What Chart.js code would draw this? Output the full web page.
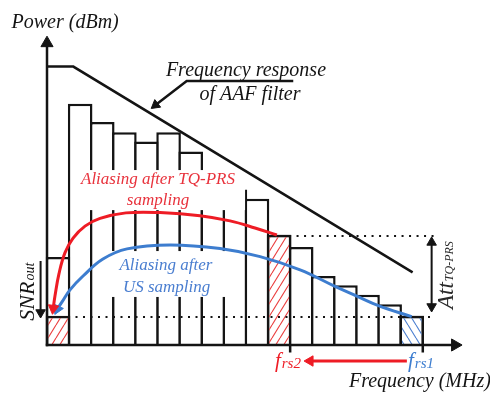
<!DOCTYPE html>
<html>
<head>
<meta charset="utf-8">
<script src="https://cdn.jsdelivr.net/npm/chart.js@4.4.1/dist/chart.umd.min.js"></script>
<style>
  html, body { margin: 0; padding: 0; background: #fff; }
  #wrap { width: 490px; height: 396px; }
</style>
</head>
<body>
<div id="wrap"><canvas id="spectrumChart" width="490" height="396"></canvas></div>
<script>
// frequency bins (bar centres) and power per bin, arbitrary dB units
const binCentres = [0.5, 1.5, 2.5, 3.5, 4.5, 5.5, 6.5, 7.5, 8.5, 9.5, 10.5, 11.5, 12.5, 13.5, 14.5, 15.5, 16.5];
const binPower   = [28.6, 78.3, 72.4, 69.1, 66.1, 69.1, 62.8, 55.0, 50.5, 47.5, 35.8, 31.8, 22.4, 19.4, 16.3, 13.2, 9.5];

// bins that get hatched (aliased power)
const aliasBins  = [0.5, 10.5, 16.5];
const aliasPower = [9.5, 35.8, 9.5];

// AAF filter response
const aafX = [0, 1.19, 16.54];
const aafY = [90.4, 90.4, 23.6];

// aliasing paths
const tqprsX = [10.40, 9.41, 8.28, 6.92, 5.11, 3.57, 2.40, 1.72, 1.18, 0.81, 0.54, 0.36, 0.28];
const tqprsY = [35.7, 38.0, 40.3, 42.0, 43.0, 42.9, 41.1, 38.6, 34.7, 29.9, 23.1, 15.9, 11.9];
const usX = [16.50, 14.99, 14.01, 12.98, 11.45, 9.64, 7.83, 5.56, 3.62, 2.53, 1.63, 1.04, 0.68, 0.47];
const usY = [9.2, 12.8, 15.9, 19.2, 24.4, 28.7, 31.3, 32.5, 31.2, 27.9, 22.4, 17.9, 14.0, 11.7];

// reference levels (dotted)
const floorLevel = 9.1;
const tqLevel = 35.4;

// sampling rate markers on the frequency axis
const fsTicks = [11, 17];

const black = '#141414';
const red = '#ee1c25';
const blue = '#3d7dcf';

function pts(xs, ys) {
    return xs.map((x, i) => ({ x: x, y: ys[i] }));
}

function hatch(color, back) {
    const c = document.createElement('canvas');
    c.width = 8; c.height = 13;
    const g = c.getContext('2d');
    g.strokeStyle = color;
    g.lineWidth = 1.1;
    for (let k = -1; k <= 1; k++) {
        g.beginPath();
        if (back) { g.moveTo(k * 8, 0); g.lineTo(k * 8 + 8, 13); }
        else { g.moveTo(k * 8, 13); g.lineTo(k * 8 + 8, 0); }
        g.stroke();
    }
    return g.createPattern(c, 'repeat');
}

// line with optional triangle heads: heads = [[pointIndex, rotation], ...]
function arrowSet(xs, ys, color, width, heads, radius) {
    const rad = xs.map(() => 0);
    const rot = xs.map(() => 0);
    heads.forEach(h => { rad[h[0]] = radius; rot[h[0]] = h[1]; });
    return {
        type: 'line',
        data: pts(xs, ys),
        borderColor: color,
        borderWidth: width,
        backgroundColor: color,
        pointStyle: 'triangle',
        pointRadius: rad,
        pointRotation: rot,
        pointBackgroundColor: color,
        pointBorderColor: color,
        pointBorderWidth: 1,
        tension: 0,
        clip: false,
        order: 1
    };
}

function dotted(xs, level) {
    return {
        type: 'line',
        data: pts(xs, [level, level]),
        borderColor: black,
        borderWidth: 2,
        borderDash: [2, 5.5],
        pointRadius: 0,
        clip: false,
        order: 2
    };
}

const barStyle = {
    borderColor: black,
    borderWidth: 2.5,
    barPercentage: 1.113,
    categoryPercentage: 1,
    grouped: false
};

const textFont = '"Liberation Serif", "DejaVu Serif", serif';

const annotate = {
    id: 'annotate',
    afterDatasetDraw(chart, args) {
        if (args.index !== 1) return;
        const ctx = chart.ctx;
        const sx = chart.scales.x, sy = chart.scales.y;
        const px = v => sx.getPixelForValue(v);
        const py = v => sy.getPixelForValue(v);
        ctx.save();

        // white backing under the alias labels
        ctx.fillStyle = '#fff';
        ctx.fillRect(px(1.40), py(56.8), px(8.96) - px(1.40), py(43.8) - py(56.8));
        ctx.fillRect(px(2.53), py(30.5), px(8.37) - px(2.53), py(15.6) - py(30.5));

        ctx.textAlign = 'center';
        ctx.textBaseline = 'alphabetic';
        const put = (t, x, y, size, color) => {
            ctx.font = 'italic ' + size + 'px ' + textFont;
            ctx.fillStyle = color;
            ctx.fillText(t, px(x), py(y));
        };
        put('Power (dBm)', 0.82, 102.9, 20, black);
        put('Frequency response', 9.0, 87.3, 20, black);
        put('of AAF filter', 9.18, 79.5, 20, black);
        put('Aliasing after TQ-PRS', 5.02, 52.3, 17, '#e8323c');
        put('sampling', 5.02, 45.5, 17, '#e8323c');
        put('Aliasing after', 5.38, 24.35, 17, '#4a7ed0');
        put('US sampling', 5.41, 17.3, 17, '#4a7ed0');
        put('Frequency (MHz)', 16.87, -13.5, 20, black);

        // f_rs labels
        ctx.textAlign = 'left';
        const sub = (main, low, x, y, color, big, small) => {
            ctx.fillStyle = color;
            ctx.font = 'italic ' + big + 'px ' + textFont;
            const w = ctx.measureText(main).width;
            ctx.fillText(main, px(x), py(y));
            ctx.font = 'italic ' + small + 'px ' + textFont;
            ctx.fillText(low, px(x) + w + 1, py(y) + 1);
        };
        sub('f', 'rs2', 10.31, -7.05, red, 21, 15);
        sub('f', 'rs1', 16.33, -7.05, blue, 21, 15);

        // rotated labels
        const rotated = (main, low, x, y, color, big, small) => {
            ctx.save();
            ctx.translate(px(x), py(y));
            ctx.rotate(-Math.PI / 2);
            ctx.fillStyle = color;
            ctx.font = 'italic ' + big + 'px ' + textFont;
            const w = ctx.measureText(main).width;
            ctx.fillText(main, 0, 0);
            ctx.font = 'italic ' + small + 'px ' + textFont;
            ctx.fillText(low, w + 1, 0);
            ctx.restore();
        };
        rotated('Att', 'TQ-PRS', 18.36, 11.7, '#2a2a2a', 23, 12);
        rotated('SNR', 'out', -0.6, 7.9, black, 22, 14);

        ctx.restore();
    }
};

new Chart(document.getElementById('spectrumChart'), {
    type: 'bar',
    data: {
        datasets: [
            Object.assign({
                data: pts(binCentres, binPower),
                backgroundColor: '#fff',
                order: 5
            }, barStyle),
            Object.assign({
                data: pts(aliasBins, aliasPower),
                backgroundColor: [hatch('#ea3b3b', false), hatch('#ea3b3b', false), hatch('#4a7ed0', true)],
                order: 4
            }, barStyle),
            // AAF response
            arrowSet(aafX, aafY, black, 2.5, [], 0),
            // leader from the AAF label
            arrowSet([11.14, 6.32, 4.91], [85.7, 85.7, 77.9], black, 2.5, [[2, 232]], 5.5),
            // aliasing curves
            Object.assign(arrowSet(tqprsX, tqprsY, red, 3, [[tqprsX.length - 1, 187]], 6), { tension: 0.4 }),
            Object.assign(arrowSet(usX, usY, blue, 3, [[usX.length - 1, 205]], 6), { tension: 0.4 }),
            dotted([0.95, 17.5], floorLevel),
            dotted([10.95, 17.6], tqLevel),
            // Att double arrow
            arrowSet([17.4, 17.4], [33.3, 12.5], black, 2, [[0, 0], [1, 180]], 5.5),
            // SNR arrow
            arrowSet([-0.29, -0.29], [27.3, 10.55], black, 2, [[1, 180]], 5.5),
            // frs1 -> frs2 arrow
            arrowSet([16.28, 11.9], [-5.2, -5.2], red, 3, [[1, 270]], 6),
            // axes
            Object.assign(arrowSet([0, 0], [0, 98], black, 2.5, [[1, 0]], 7), { borderCapStyle: 'square' }),
            Object.assign(arrowSet([0, 18.46], [0, 0], black, 2.5, [[1, 90]], 7), { borderCapStyle: 'square' }),
            arrowSet([fsTicks[0], fsTicks[0]], [0, -2.4], black, 2.5, [], 0),
            arrowSet([fsTicks[1], fsTicks[1]], [0, -2.4], black, 2.5, [], 0)
        ]
    },
    options: {
        responsive: false,
        animation: false,
        events: [],
        layout: { autoPadding: false, padding: { left: 24.9, right: 23, top: 37, bottom: 1.72 } },
        scales: {
            x: { type: 'linear', min: -1, max: 19, offset: false, display: false, ticks: { stepSize: 1 } },
            y: { type: 'linear', min: -16, max: 100, display: false }
        },
        plugins: {
            legend: { display: false },
            tooltip: { enabled: false }
        }
    },
    plugins: [annotate]
});
</script>
</body>
</html>
